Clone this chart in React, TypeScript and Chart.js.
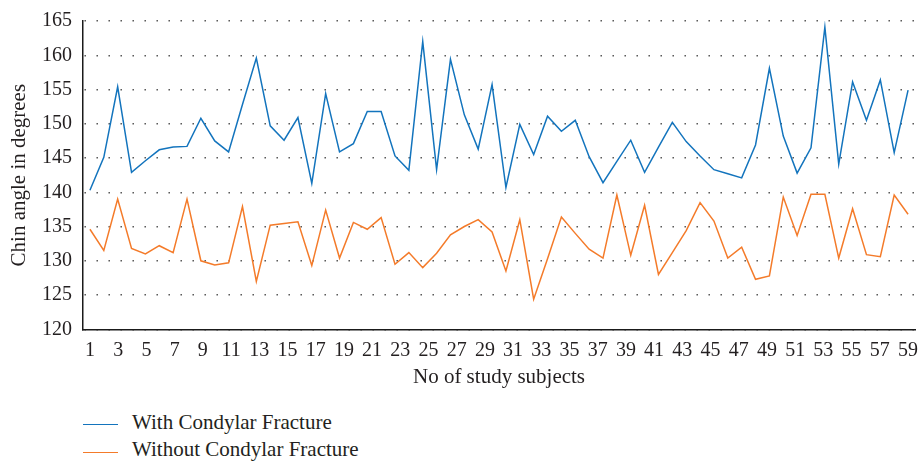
import React, { useEffect, useRef } from 'react';
import { Chart, registerables } from 'chart.js';

Chart.register(...registerables);

// ---- data ----
const subjects = [
  1, 2, 3, 4, 5, 6, 7, 8, 9, 10, 11, 12, 13, 14, 15, 16, 17, 18, 19, 20,
  21, 22, 23, 24, 25, 26, 27, 28, 29, 30, 31, 32, 33, 34, 35, 36, 37, 38, 39, 40,
  41, 42, 43, 44, 45, 46, 47, 48, 49, 50, 51, 52, 53, 54, 55, 56, 57, 58, 59, 60,
];

const withFracture = [
  140.3, 145.1, 155.4, 142.9, 144.6, 146.2, 146.6, 146.7, 150.8, 147.5,
  145.9, 152.8, 159.6, 149.7, 147.6, 150.9, 141.3, 154.4, 145.9, 147.1,
  151.8, 151.8, 145.3, 143.2, 162.0, 143.3, 159.4, 151.3, 146.3, 155.7,
  140.7, 149.9, 145.5, 151.1, 148.9, 150.5, 145.2, 141.4, 144.5, 147.6,
  142.9, 146.6, 150.2, 147.4, 145.3, 143.3, 142.7, 142.1, 146.9, 158.1,
  148.2, 142.8, 146.5, 164.1, 144.1, 156.1, 150.5, 156.4, 145.8, 154.9,
];

const withoutFracture = [
  134.6, 131.5, 139.0, 131.8, 131.0, 132.2, 131.2, 139.0, 130.0, 129.4,
  129.7, 137.9, 127.0, 135.2, 135.45, 135.7, 129.3, 137.4, 130.4, 135.6,
  134.6, 136.3, 129.5, 131.2, 129.0, 131.1, 133.8, 135.0, 136.0, 134.2,
  128.5, 136.0, 124.4, 130.3, 136.4, 134.0, 131.7, 130.4, 139.6, 130.8,
  138.1, 128.0, 131.2, 134.4, 138.5, 135.8, 130.4, 132.0, 127.3, 127.8,
  139.3, 133.7, 139.7, 139.7, 130.4, 137.6, 130.9, 130.6, 139.6, 136.8,
];

const xTickLabels = [
  1, 3, 5, 7, 9, 11, 13, 15, 17, 19, 21, 23, 25, 27, 29,
  31, 33, 35, 37, 39, 41, 43, 45, 47, 49, 51, 53, 55, 57, 59,
];

const seriesNames = ['With Condylar Fracture', 'Without Condylar Fracture'];
const seriesColors = ['#1374bd', '#f47b2a'];

const FONT = "'Liberation Serif', 'Times New Roman', serif";
const TEXT = '#231f20';

export default function App() {
  const canvasRef = useRef<HTMLCanvasElement | null>(null);

  useEffect(() => {
    const canvas = canvasRef.current;
    if (!canvas) return;
    const seriesValues = [withFracture, withoutFracture];
    const chart = new Chart(canvas, {
      type: 'line',
      data: {
        datasets: seriesNames.map((name, si) => ({
          label: name,
          data: subjects.map((s, i) => ({ x: s, y: seriesValues[si][i] })),
          borderColor: seriesColors[si],
          backgroundColor: seriesColors[si],
          borderWidth: 1.5,
          pointRadius: 0,
          tension: 0,
          fill: false,
          xAxisID: 'x',
          yAxisID: 'y',
        })),
      },
      options: {
        responsive: false,
        animation: false,
        events: [],
        layout: { padding: { top: 21, right: 8, bottom: 0, left: 0 } },
        plugins: {
          legend: { display: false },
          tooltip: { enabled: false },
        },
        scales: {
          x: {
            type: 'linear',
            min: 0.5,
            max: 60.5,
            display: false,
          },
          xl: {
            type: 'linear',
            position: 'bottom',
            min: 0.5,
            max: 59.5,
            afterBuildTicks: (s: any) => {
              s.ticks = xTickLabels.map((v) => ({ value: v }));
            },
            afterFit: (s: any) => {
              s.height = 60.7;
              s.paddingLeft = 0;
              s.paddingRight = 0;
            },
            grid: { display: false, drawTicks: false },
            border: { display: true, color: '#1a1a1a', width: 1.5 },
            ticks: {
              autoSkip: false,
              maxRotation: 0,
              padding: 9,
              color: TEXT,
              font: { family: FONT, size: 20 },
              callback: (v: any) => String(v),
            },
            title: {
              display: true,
              text: 'No of study subjects',
              color: TEXT,
              font: { family: FONT, size: 21 },
              padding: 0,
            },
          },
          y: {
            type: 'linear',
            min: 120,
            max: 165,
            afterFit: (s: any) => {
              s.width = 83;
              s.paddingTop = 0;
              s.paddingBottom = 0;
            },
            ticks: {
              stepSize: 5,
              padding: 11,
              color: TEXT,
              font: { family: FONT, size: 20 },
            },
            grid: {
              color: '#4a4a4a',
              lineWidth: 1.4,
              drawTicks: false,
            },
            border: { display: true, color: '#1a1a1a', width: 1.5, dash: [1.4, 10.6], dashOffset: -1 },
            title: {
              display: true,
              text: 'Chin angle in degrees',
              color: TEXT,
              font: { family: FONT, size: 21 },
              padding: { top: 7, bottom: 0 },
            },
          },
        },
      } as any,
    });
    return () => chart.destroy();
  }, []);

  const legendTops = [410, 437];
  const lineTops = [424, 451.5];

  return (
    <div style={{ position: 'absolute', left: 0, top: 0, width: 923, height: 463, background: '#fff' }}>
      <canvas ref={canvasRef} width={923} height={390} style={{ display: 'block' }} />
      {seriesNames.map((name, i) => (
        <React.Fragment key={name}>
          <div
            style={{
              position: 'absolute',
              left: 83,
              top: lineTops[i],
              width: 35,
              height: 0,
              borderTop: `1.5px solid ${seriesColors[i]}`,
            }}
          />
          <div
            style={{
              position: 'absolute',
              left: 132,
              top: legendTops[i],
              fontFamily: FONT,
              fontSize: 21,
              lineHeight: '25px',
              color: TEXT,
              whiteSpace: 'nowrap',
            }}
          >
            {name}
          </div>
        </React.Fragment>
      ))}
    </div>
  );
}
